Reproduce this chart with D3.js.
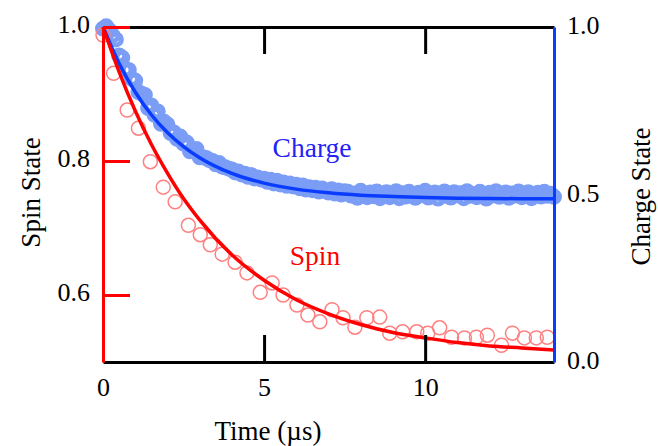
<!DOCTYPE html>
<html>
<head>
<meta charset="utf-8">
<script src="https://cdn.jsdelivr.net/npm/d3@7"></script>
<style>
  body { margin: 0; background: #fff; }
</style>
</head>
<body>
<svg id="chart" width="658" height="446"></svg>
<script>
// --- data ---
const spinTime = [0, 0.33, 0.75, 1.10, 1.47, 1.87, 2.24, 2.65, 3.02, 3.33, 3.70, 4.10, 4.47, 4.88,
  5.25, 5.59, 6.02, 6.36, 6.73, 7.11, 7.45, 7.82, 8.19, 8.59, 8.90, 9.30, 9.74, 10.08, 10.45,
  10.82, 11.22, 11.59, 11.93, 12.37, 12.71, 13.08, 13.45, 13.79];
const spinValue = [0.988, 0.931, 0.876, 0.849, 0.799, 0.761, 0.739, 0.704, 0.690, 0.675, 0.661,
  0.649, 0.633, 0.604, 0.618, 0.600, 0.585, 0.570, 0.560, 0.578, 0.566, 0.552, 0.566, 0.567,
  0.543, 0.545, 0.545, 0.543, 0.551, 0.537, 0.536, 0.537, 0.540, 0.525, 0.543, 0.536, 0.536, 0.537];

const spinFitTime  = [0, 0.5, 1, 1.5, 2, 2.5, 3, 4, 5, 6, 7, 8, 9, 10, 11, 12, 13, 14];
const spinFitValue = [1.000, 0.933, 0.875, 0.825, 0.782, 0.744, 0.712, 0.660, 0.622, 0.593,
  0.572, 0.556, 0.544, 0.536, 0.529, 0.524, 0.521, 0.518];

// charge trace, one sample every 0.1 µs from 0 to 14 µs
const chargeStep = 0.1;
const chargeValue = [
  0.995, 1.002, 0.990, 0.975, 0.963, 0.915, 0.908, 0.872, 0.872, 0.845,
  0.840, 0.806, 0.801, 0.797, 0.758, 0.766, 0.738, 0.748, 0.711, 0.717,
  0.709, 0.683, 0.685, 0.666, 0.673, 0.652, 0.655, 0.629, 0.633, 0.636,
  0.611, 0.611, 0.609, 0.603, 0.600, 0.590, 0.594, 0.583, 0.581, 0.577,
  0.575, 0.566, 0.569, 0.560, 0.562, 0.553, 0.558, 0.548, 0.551, 0.545,
  0.547, 0.538, 0.544, 0.533, 0.541, 0.530, 0.536, 0.526, 0.533, 0.524,
  0.529, 0.519, 0.527, 0.515, 0.522, 0.513, 0.520, 0.509, 0.518, 0.511,
  0.506, 0.516, 0.503, 0.512, 0.500, 0.510, 0.508, 0.497, 0.503, 0.490,
  0.511, 0.499, 0.492, 0.506, 0.495, 0.509, 0.489, 0.501, 0.507, 0.492,
  0.498, 0.510, 0.489, 0.504, 0.494, 0.508, 0.497, 0.490, 0.505, 0.499,
  0.511, 0.491, 0.500, 0.506, 0.488, 0.502, 0.509, 0.495, 0.491, 0.507,
  0.498, 0.504, 0.489, 0.510, 0.496, 0.501, 0.492, 0.508, 0.499, 0.488,
  0.505, 0.497, 0.510, 0.493, 0.500, 0.506, 0.490, 0.503, 0.497, 0.509,
  0.492, 0.501, 0.507, 0.489, 0.499, 0.505, 0.494, 0.508, 0.496, 0.502,
  0.493];

const chargeFitTime  = [0, 0.5, 1, 1.5, 2, 2.5, 3, 4, 5, 6, 7, 8, 9, 10, 11, 12, 13, 14];
const chargeFitValue = [1.000, 0.891, 0.806, 0.738, 0.685, 0.643, 0.610, 0.563, 0.534, 0.516,
  0.505, 0.498, 0.494, 0.491, 0.489, 0.488, 0.4875, 0.487];

const xTicks = [0, 5, 10];
const spinTicks = [0.6, 0.8, 1.0];
const chargeTicks = [0, 0.5, 1.0];

// --- colours ---
const RED = "#ff0000", RED_LIGHT = "#ff8080";
const BLUE = "#0a3cff", BLUE_LIGHT = "#7b9df6", BLUE_TEXT = "#2323f5";
const SERIF = "'Liberation Serif', 'DejaVu Serif', Times, serif";

const svg = d3.select("#chart");
const W = 658, H = 446;
const m = {left: 103, right: 104, top: 27, bottom: 84};
const FS_TICK = 26, FS_TITLE = 27, FS_NOTE = 27.5;

svg.append("rect").attr("width", W).attr("height", H).attr("fill", "#fff");

const x = d3.scaleLinear().domain([0, 14]).range([m.left, W - m.right]);
const ySpin = d3.scaleLinear().domain([0.5, 1.0]).range([H - m.bottom, m.top]);
const yCharge = d3.scaleLinear().domain([0, 1.0]).range([H - m.bottom, m.top]);

const chargeData = chargeValue.map((v, i) => ({t: +(i * chargeStep).toFixed(2), v}));
const spinData = spinTime.map((t, i) => ({t, v: spinValue[i]}));

// charge points (dense, thick open circles -> a band)
svg.append("g")
  .selectAll("circle")
  .data(chargeData)
  .join("circle")
    .attr("cx", d => x(d.t))
    .attr("cy", d => yCharge(d.v))
    .attr("r", 5.5)
    .attr("fill", "none")
    .attr("stroke", BLUE_LIGHT)
    .attr("stroke-width", 5);

// spin points
svg.append("g")
  .selectAll("circle")
  .data(spinData)
  .join("circle")
    .attr("cx", d => x(d.t))
    .attr("cy", d => ySpin(d.v))
    .attr("r", 7)
    .attr("fill", "none")
    .attr("stroke", RED_LIGHT)
    .attr("stroke-width", 1.5);

// fits
const chargeLine = d3.line().curve(d3.curveMonotoneX)
  .x((d, i) => x(chargeFitTime[i])).y(d => yCharge(d));
svg.append("path")
  .attr("d", chargeLine(chargeFitValue))
  .attr("fill", "none").attr("stroke", BLUE).attr("stroke-width", 3.5);

const spinLine = d3.line().curve(d3.curveMonotoneX)
  .x((d, i) => x(spinFitTime[i])).y(d => ySpin(d));
svg.append("path")
  .attr("d", spinLine(spinFitValue))
  .attr("fill", "none").attr("stroke", RED).attr("stroke-width", 3.5);

// --- axes ---
const tickLen = 27;

const gBottom = svg.append("g")
  .attr("transform", `translate(0,${H - m.bottom})`)
  .call(d3.axisBottom(x).tickValues(xTicks).tickSizeInner(-tickLen).tickSizeOuter(0).tickPadding(16));

const gTop = svg.append("g")
  .attr("transform", `translate(0,${m.top})`)
  .call(d3.axisTop(x).tickValues([5, 10]).tickSizeInner(-tickLen).tickSizeOuter(0).tickFormat(""));

const gRight = svg.append("g")
  .attr("transform", `translate(${W - m.right},0)`)
  .call(d3.axisRight(yCharge).tickValues(chargeTicks).tickSize(0).tickPadding(13)
    .tickFormat(d3.format(".1f")));

const gLeft = svg.append("g")
  .attr("transform", `translate(${m.left},0)`)
  .call(d3.axisLeft(ySpin).tickValues(spinTicks).tickSizeInner(-tickLen).tickSizeOuter(0)
    .tickPadding(13).tickFormat(d3.format(".1f")));

[gBottom, gTop].forEach(g => {
  g.select(".domain").attr("stroke", "#000").attr("stroke-width", 3);
  g.selectAll(".tick line").attr("stroke", "#000").attr("stroke-width", 3);
});
gRight.select(".domain").attr("stroke", BLUE).attr("stroke-width", 3);
gLeft.select(".domain").attr("stroke", RED).attr("stroke-width", 3);
gLeft.selectAll(".tick line").attr("stroke", RED).attr("stroke-width", 3);

[gBottom, gTop, gRight, gLeft].forEach(g => {
  g.attr("font-family", SERIF);
  g.selectAll("text").attr("font-size", FS_TICK).attr("fill", "#000");
});
gLeft.selectAll("text").attr("dy", "0.22em");
gRight.selectAll("text").attr("dy", "0.26em");
gBottom.selectAll(".tick").filter(d => d === 0).select("line").remove();

// --- titles & annotations ---
const labels = svg.append("g").attr("font-family", SERIF);

labels.append("text")
  .attr("x", 268)
  .attr("y", 440)
  .attr("text-anchor", "middle")
  .attr("font-size", FS_TITLE)
  .text("Time (µs)");

labels.append("text")
  .attr("transform", `translate(40,${(m.top + H - m.bottom) / 2 - 2}) rotate(-90)`)
  .attr("text-anchor", "middle")
  .attr("font-size", FS_TITLE)
  .text("Spin State");

labels.append("text")
  .attr("transform", `translate(650,${(m.top + H - m.bottom) / 2 + 2}) rotate(-90)`)
  .attr("text-anchor", "middle")
  .attr("font-size", FS_TITLE)
  .text("Charge State");

labels.append("text")
  .attr("x", x(6.49)).attr("y", yCharge(0.612))
  .attr("text-anchor", "middle")
  .attr("font-size", FS_NOTE)
  .attr("fill", BLUE_TEXT)
  .text("Charge");

labels.append("text")
  .attr("x", x(6.58)).attr("y", ySpin(0.645))
  .attr("text-anchor", "middle")
  .attr("font-size", FS_NOTE)
  .attr("fill", RED)
  .text("Spin");
</script>
</body>
</html>
